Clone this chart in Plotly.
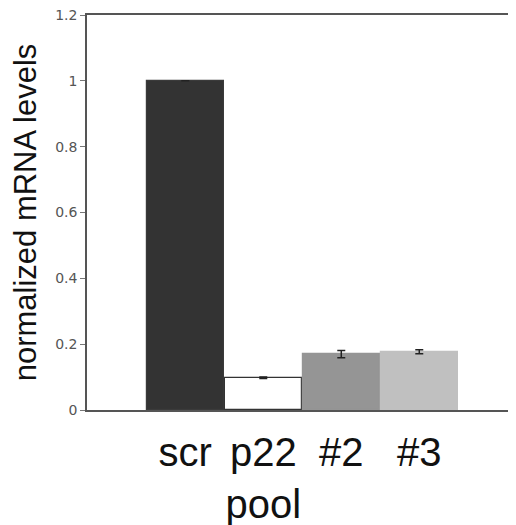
import plotly.graph_objects as go

categories = ["scr", "p22<br>pool", "#2", "#3"]
values = [1.0, 0.098, 0.170, 0.177]
errors = [0.0, 0.002, 0.011, 0.006]
colors = ["#333333", "#ffffff", "#959595", "#c0c0c0"]
line_colors = ["#3a3a3a", "#333333", "#959595", "#c0c0c0"]
y_ticks = [0, 0.2, 0.4, 0.6, 0.8, 1, 1.2]
y_tick_text = ["0", "0.2", "0.4", "0.6", "0.8", "1", "1.2"]

x_pos = list(range(len(categories)))

fig = go.Figure()
fig.add_trace(go.Bar(
    x=x_pos, y=values, width=0.985,
    marker=dict(color=colors, line=dict(color=line_colors, width=1.2)),
    error_y=dict(type="data", array=errors, visible=True, color="#222222", thickness=1.5, width=4),
    showlegend=False,
))

# page body has an 8px margin, so the figure is 508x517 and offset accordingly
fig.update_layout(
    width=508, height=517,
    margin=dict(l=79, r=0, t=7, b=115),
    paper_bgcolor="white", plot_bgcolor="white",
    bargap=0,
    xaxis=dict(
        range=[-1.26, 4.24], tickvals=x_pos, ticktext=categories,
        showline=True, linecolor="#555555", linewidth=1.5, mirror=True,
        showgrid=False, zeroline=False, ticks="", automargin=False,
        ticklabelstandoff=6, ticklabeloverflow="allow",
        tickfont=dict(family="Liberation Sans, Arial", size=40, color="#111111"),
    ),
    yaxis=dict(
        range=[0, 1.2], tickvals=y_ticks, ticktext=y_tick_text,
        showline=True, linecolor="#555555", linewidth=1.5, mirror=False,
        showgrid=False, zeroline=False, ticks="outside", ticklen=5, tickcolor="#777777",
        automargin=False, ticklabeloverflow="allow",
        tickfont=dict(family="DejaVu Sans, Verdana", size=14, color="#555555"),
        title=dict(text="normalized mRNA levels", standoff=13,
                   font=dict(family="Liberation Sans, Arial", size=31, color="#111111")),
    ),
)

fig.write_html("out.html")
